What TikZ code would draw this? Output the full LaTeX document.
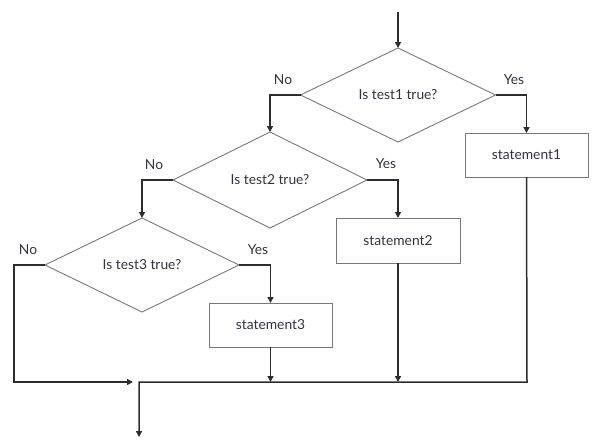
\documentclass[tikz,border=0pt]{standalone}
\usepackage{fontspec}
\setmainfont{Lato}
\usetikzlibrary{shapes.geometric,arrows.meta}
\definecolor{txt}{RGB}{50,50,65}
\definecolor{conn}{RGB}{45,45,45}
\definecolor{outl}{RGB}{120,120,120}
\begin{document}
\begin{tikzpicture}[x=1pt,y=-1pt,
  font=\fontsize{13.8}{15}\selectfont\color{txt},
  decision/.style={draw=outl,line width=0.9pt,shape=diamond,aspect=2,inner sep=0pt,outer sep=0pt},
  stmt/.style={draw=outl,line width=0.9pt,rectangle,inner sep=0pt,outer sep=0pt},
  flow/.style={draw=conn,line width=1.5pt},
  arr/.style={flow,-{Triangle[length=6pt,width=6pt]}},
  lbl/.style={inner sep=0pt}]
\useasboundingbox (0,0) rectangle (600,447);
\coordinate (start) at (398,12);
\node[decision,minimum width=195pt,minimum height=94pt] (d1) at (398,95) {Is test1 true?};
\node[decision,minimum width=194pt,minimum height=96pt] (d2) at (270,180) {Is test2 true?};
\node[decision,minimum width=194pt,minimum height=94pt] (d3) at (142,265) {Is test3 true?};
\node[stmt,minimum width=123pt,minimum height=44pt] (s1) at (526.5,155) {statement1};
\node[stmt,minimum width=124pt,minimum height=45pt] (s2) at (398,240.5) {statement2};
\node[stmt,minimum width=123pt,minimum height=44pt] (s3) at (270.5,325) {statement3};
\coordinate (c3) at (14,265);
\coordinate (c4) at (14,382);
\coordinate (m3) at (133,382);
\coordinate (j3) at (270.5,382);
\coordinate (j2) at (398,382);
\coordinate (j1) at (527,382);
\coordinate (j0) at (139,382);
\coordinate (end) at (139,437);
\node[lbl] (no1) at (283,80) {No};
\node[lbl] (yes1) at (514,80) {Yes};
\node[lbl] (no2) at (154,165) {No};
\node[lbl] (yes2) at (386,164) {Yes};
\node[lbl] (no3) at (28,250) {No};
\node[lbl] (yes3) at (258,250) {Yes};
\draw[arr] (start) -- (d1.north);
\draw[arr] (d1.west) -| (d2.north);
\draw[arr] (d1.east) -| (s1.north);
\draw[arr] (d2.west) -| (d3.north);
\draw[arr] (d2.east) -| (s2.north);
\draw[arr] (d3.east) -| (s3.north);
\draw[arr] (d3.west) -- (c3) -- (c4) -- (m3);
\draw[arr] (s3.south) -- (j3);
\draw[arr] (s2.south) -- (j2);
\draw[arr,line join=miter] (s1.south) -- (j1) -- (j0) -- (end);
\end{tikzpicture}
\end{document}
